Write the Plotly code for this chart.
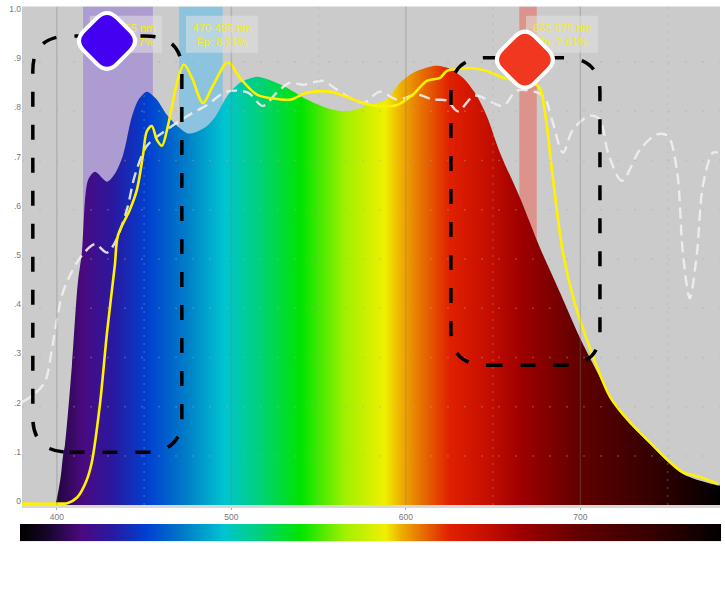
import plotly.graph_objects as go

# Wavelength axis and spectrum curve
spectrum_nm = [380, 398, 399, 402, 403.5, 404.6, 408.6, 412, 414.3, 417.8, 421.8, 428.7, 433, 437.8, 443, 447, 451.6, 457, 463, 469, 475, 480, 486, 491, 497.4, 504.9, 514.6, 529.5, 543.3, 554.7, 566.2, 579.4, 589, 596.6, 604, 615.5, 619.5, 626, 632.7, 640, 646.4, 653.9, 665.3, 676.8, 688.3, 699.7, 711.2, 722.6, 739.8, 758.7, 778.8, 780]
spectrum_val = [0, 0, 0.002, 0.053, 0.10, 0.122, 0.284, 0.452, 0.513, 0.66, 0.677, 0.657, 0.672, 0.71, 0.79, 0.825, 0.84, 0.825, 0.793, 0.77, 0.755, 0.758, 0.77, 0.79, 0.83, 0.858, 0.87, 0.852, 0.824, 0.807, 0.80, 0.813, 0.824, 0.858, 0.878, 0.892, 0.892, 0.885, 0.868, 0.835, 0.79, 0.716, 0.625, 0.523, 0.432, 0.34, 0.26, 0.189, 0.124, 0.063, 0.04, 0.04]

yellow_nm = [380, 400, 406, 411.7, 417, 420, 424.6, 428.7, 433.2, 435, 441.8, 445.8, 449.3, 451.6, 454.4, 457.3, 460.2, 463.6, 468.8, 472.8, 477.4, 483.7, 489.4, 498, 504.9, 514.6, 524, 534, 543.3, 556.4, 563.9, 575.4, 583.4, 594.8, 604, 612, 619.5, 623.5, 629.8, 636.7, 648, 655.6, 675.6, 679.7, 683.7, 690, 696.8, 705.4, 717, 728, 739.8, 749.6, 758.7, 768.5, 778.8]
yellow_val = [0.003, 0.003, 0.004, 0.016, 0.05, 0.087, 0.203, 0.35, 0.487, 0.548, 0.60, 0.64, 0.71, 0.76, 0.77, 0.742, 0.73, 0.77, 0.858, 0.895, 0.868, 0.817, 0.852, 0.90, 0.868, 0.834, 0.826, 0.824, 0.838, 0.84, 0.832, 0.817, 0.811, 0.813, 0.834, 0.862, 0.868, 0.882, 0.886, 0.888, 0.88, 0.868, 0.852, 0.797, 0.68, 0.513, 0.41, 0.32, 0.22, 0.17, 0.128, 0.093, 0.067, 0.057, 0.043]

white_nm = [380, 386.2, 393.1, 397.1, 400, 402.9, 407.4, 414.3, 421.8, 428.7, 433.2, 440.1, 444.7, 451.6, 460.7, 474.5, 486, 497.4, 509.5, 518, 526, 533.5, 541, 552.4, 560.5, 575.4, 585.1, 594.8, 606.3, 615.5, 623.5, 629.8, 639.5, 655.6, 663.6, 678.5, 683.7, 690, 695.7, 705.4, 711.2, 715.8, 723.8, 734.1, 743.8, 750.1, 755.3, 758.7, 762.7, 766.8, 770.2, 775.9, 778.8]
white_val = [0.209, 0.223, 0.25, 0.316, 0.377, 0.426, 0.466, 0.507, 0.53, 0.513, 0.533, 0.60, 0.67, 0.73, 0.757, 0.79, 0.813, 0.84, 0.838, 0.811, 0.838, 0.858, 0.854, 0.862, 0.844, 0.817, 0.84, 0.824, 0.834, 0.824, 0.822, 0.80, 0.832, 0.811, 0.842, 0.832, 0.783, 0.716, 0.763, 0.791, 0.783, 0.716, 0.659, 0.722, 0.753, 0.75, 0.681, 0.513, 0.42, 0.513, 0.649, 0.716, 0.716]

# Colour ramp of the visible spectrum
ramp_nm = [380, 395, 415, 432, 452, 475, 496, 515, 540, 565, 588, 597, 606, 625, 645, 665, 700, 745, 780]
ramp_colors = ["#000000", "#150528", "#4a0a80", "#2a18a0", "#0040d0", "#0080c8", "#00c4d0", "#00d080", "#00e400", "#a0f000", "#f0f000", "#f0b000", "#e88000", "#e02000", "#c81000", "#a00000", "#600000", "#300000", "#000000"]

# Axis ticks
y_ticks = [0, .1, .2, .3, .4, .5, .6, .7, .8, .9, 1.0]
y_labels = ["0", ".1", ".2", ".3", ".4", ".5", ".6", ".7", ".8", ".9", "1.0"]
x_ticks = [400, 500, 600, 700]
x_minor = [450, 550, 650, 750]

# Highlighted bands
band_ranges = [(415, 455), (470, 495), (665, 675)]
band_colors = ["rgba(130,90,220,0.42)", "rgba(90,190,240,0.55)", "rgba(240,70,50,0.42)"]
band_text = ["415-455 nm<br>Ep: 22.27%", "470-495 nm<br>Ep: 8.21%", "665-675 nm<br>Ep: 2.61%"]
label_boxes = [(418.9, 460.2), (473.9, 515.2), (668.8, 710)]

# Dashed callouts (x0, x1, y0, y1) and diamond markers
callouts = [(386.2, 471.6, 0.1075, 0.953), (625.8, 711.2, 0.284, 0.909)]
diamonds = [(428.7, 0.943, "#4400f0"), (668.2, 0.905, "#f03820")]

W, H = 725, 596
Y_TOP = 1.013
scale = [[(n - 380) / 400, c] for n, c in zip(ramp_nm, ramp_colors)]

fig = go.Figure()
fig.add_trace(go.Scatter(
    x=spectrum_nm, y=spectrum_val, mode="lines", fill="tozeroy",
    line=dict(width=0, shape="spline", smoothing=0.8),
    fillgradient=dict(type="horizontal", colorscale=scale, start=380, stop=780),
    hoverinfo="skip", showlegend=False))
fig.add_trace(go.Scatter(
    x=white_nm, y=white_val, mode="lines",
    line=dict(color="rgba(240,240,240,0.9)", width=2.4, dash="11px,6px", shape="spline", smoothing=0.9),
    hoverinfo="skip", showlegend=False))
fig.add_trace(go.Scatter(
    x=yellow_nm, y=yellow_val, mode="lines",
    line=dict(color="#fff200", width=2.6, shape="spline", smoothing=0.9),
    hoverinfo="skip", showlegend=False, cliponaxis=False))
fig.add_trace(go.Heatmap(
    x=ramp_nm, y=[0, 1], z=[ramp_nm, ramp_nm], zsmooth="best",
    colorscale=scale, zmin=380, zmax=780, showscale=False,
    xaxis="x2", yaxis="y2", hoverinfo="skip"))

shapes = []
for (a, b), c in zip(band_ranges, band_colors):
    shapes.append(dict(type="rect", xref="x", yref="y", x0=a, x1=b,
                       y0=0, y1=Y_TOP, fillcolor=c, line_width=0, layer="below"))
for t in x_ticks:
    shapes.append(dict(type="line", xref="x", yref="y", x0=t, x1=t, y0=0, y1=Y_TOP,
                       line=dict(color="rgba(120,120,120,0.3)", width=1.5), layer="above"))
for t in x_minor:
    shapes.append(dict(type="line", xref="x", yref="y", x0=t, x1=t, y0=0, y1=Y_TOP,
                       line=dict(color="rgba(170,170,170,0.3)", width=1.5, dash="2px,6px"), layer="above"))
for t in y_ticks[1:-1]:
    shapes.append(dict(type="line", xref="x", yref="y", x0=380, x1=780, y0=t, y1=t,
                       line=dict(color="rgba(170,170,170,0.35)", width=1.5, dash="2px,15px"), layer="above"))
for (a, b), txt in zip(label_boxes, band_text):
    shapes.append(dict(type="rect", xref="x", yref="y", x0=a, x1=b, y0=0.919, y1=0.994,
                       fillcolor="rgba(225,225,225,0.55)", line_width=0, layer="above",
                       label=dict(text=txt, textposition="middle center",
                                  font=dict(family="Liberation Sans", size=11, color="#f2ee10"))))
for x0, x1, y0, y1 in callouts:
    rx, ry = 21, 0.07
    path = (f"M {x0+rx} {y0} L {x1-rx} {y0} Q {x1} {y0} {x1} {y0+ry} L {x1} {y1-ry} "
            f"Q {x1} {y1} {x1-rx} {y1} L {x0+rx} {y1} Q {x0} {y1} {x0} {y1-ry} L {x0} {y0+ry} "
            f"Q {x0} {y0} {x0+rx} {y0} Z")
    shapes.append(dict(type="path", xref="x", yref="y", path=path, fillcolor="rgba(0,0,0,0)",
                       line=dict(color="black", width=3.5, dash="15px,18px"), layer="above"))
for x, y, c in diamonds:
    r, k = 33, 10
    path = (f"M {-k} {-r+k} Q 0 {-r} {k} {-r+k} L {r-k} {-k} Q {r} 0 {r-k} {k} "
            f"L {k} {r-k} Q 0 {r} {-k} {r-k} L {-r+k} {k} Q {-r} 0 {-r+k} {-k} Z")
    shapes.append(dict(type="path", xref="x", yref="y", xsizemode="pixel", ysizemode="pixel",
                       xanchor=x, yanchor=y, path=path, fillcolor=c,
                       line=dict(color="white", width=4), layer="above"))

tick_font = dict(family="Liberation Sans", size=8.5, color="#777777")
fig.update_layout(
    width=W, height=H, margin=dict(l=0, r=0, t=0, b=0), autosize=False,
    paper_bgcolor="white", plot_bgcolor="#cbcbcb", showlegend=False, shapes=shapes,
    xaxis=dict(domain=[22 / W, 720 / W], range=[380, 780], tickvals=x_ticks,
               ticktext=[str(t) for t in x_ticks], tickfont=tick_font, showgrid=False,
               zeroline=False, showline=True, linecolor="#d8d8d8", linewidth=3,
               ticks="outside", ticklen=2, tickcolor="#aaaaaa", anchor="y"),
    yaxis=dict(domain=[1 - 505.5 / H, 1 - 3.5 / H], range=[0, Y_TOP], tickvals=y_ticks,
               ticktext=y_labels, tickfont=tick_font, showgrid=False, zeroline=False,
               showline=False, ticks="", anchor="x", ticklabelshift=-4),
    xaxis2=dict(domain=[20 / W, 721 / W], range=[380, 780], visible=False, anchor="y2"),
    yaxis2=dict(domain=[1 - 542 / H, 1 - 524.5 / H], range=[0, 1], visible=False, anchor="x2"),
)
fig.write_html("out.html", config={"displayModeBar": False},
               post_script="document.body.style.margin='0';document.documentElement.style.overflow='hidden';")
